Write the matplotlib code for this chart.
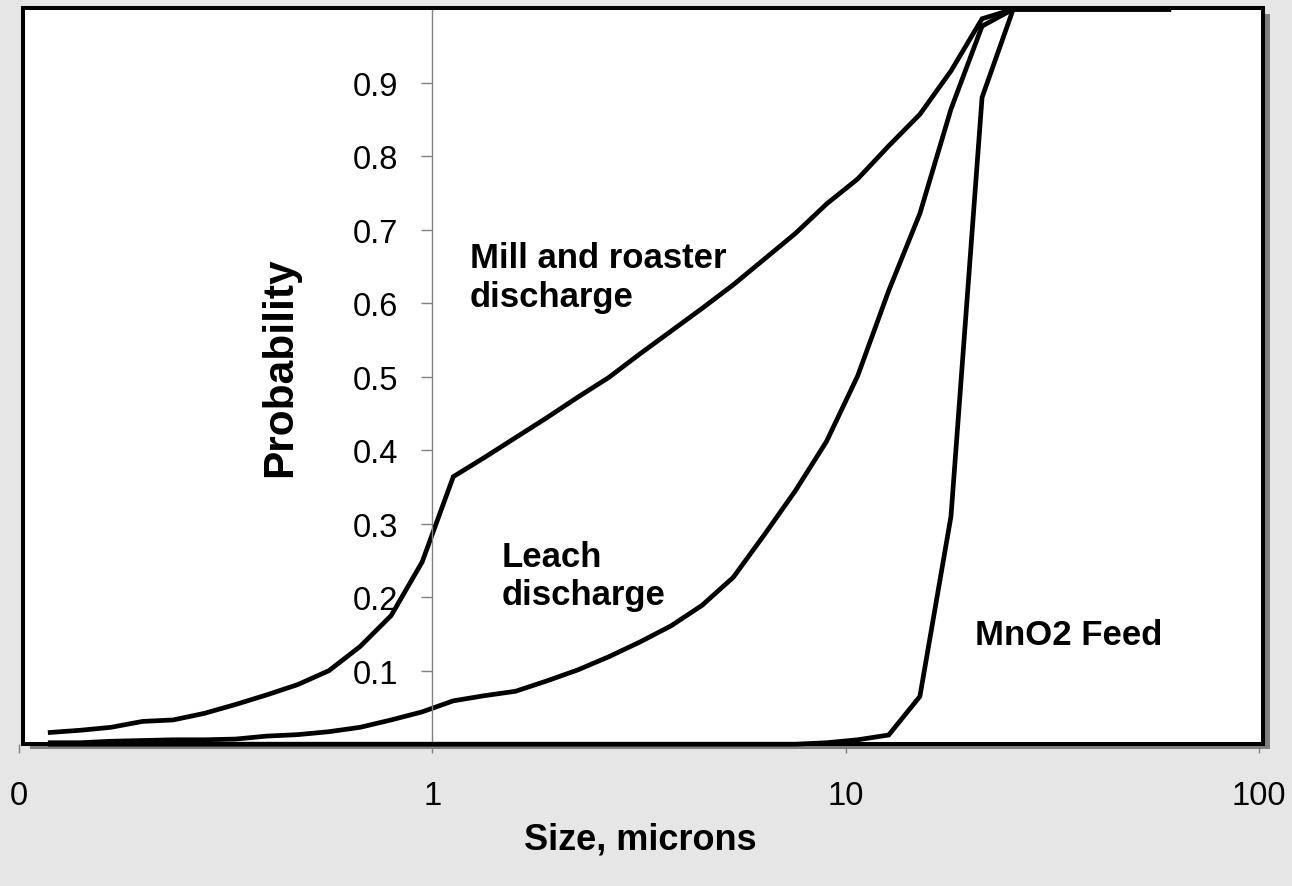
import matplotlib
matplotlib.use("Agg")
import matplotlib.pyplot as plt
from matplotlib.patches import Rectangle

plt.rcParams['font.family'] = ['Liberation Sans', 'DejaVu Sans']

# ---- data ----
sizes = [0.119, 0.141, 0.167, 0.199, 0.236, 0.281, 0.334, 0.397, 0.472, 0.562,
         0.669, 0.795, 0.945, 1.124, 1.336, 1.589, 1.89, 2.247, 2.673, 3.178,
         3.78, 4.495, 5.346, 6.357, 7.56, 8.99, 10.69, 12.71, 15.12, 17.98,
         21.38, 25.43, 30.24, 35.96, 42.77, 50.86, 60.48]
mill_roaster = [0.016, 0.019, 0.023, 0.031, 0.033, 0.042, 0.054, 0.067, 0.081, 0.100,
                0.133, 0.175, 0.248, 0.364, 0.390, 0.417, 0.444, 0.472, 0.499, 0.531,
                0.562, 0.593, 0.625, 0.660, 0.695, 0.735, 0.769, 0.814, 0.857, 0.916,
                0.987, 1.0, 1.0, 1.0, 1.0, 1.0, 1.0]
leach = [0.002, 0.002, 0.004, 0.005, 0.006, 0.006, 0.007, 0.011, 0.013, 0.017,
         0.023, 0.033, 0.044, 0.059, 0.066, 0.072, 0.086, 0.101, 0.119, 0.139,
         0.161, 0.189, 0.227, 0.285, 0.345, 0.412, 0.501, 0.617, 0.722, 0.864,
         0.977, 1.0, 1.0, 1.0, 1.0, 1.0, 1.0]
mno2_feed = [0.0, 0.0, 0.0, 0.0, 0.0, 0.0, 0.0, 0.0, 0.0, 0.0,
             0.0, 0.0, 0.0, 0.0, 0.0, 0.0, 0.0, 0.0, 0.0, 0.0,
             0.0, 0.0, 0.0, 0.0, 0.0, 0.002, 0.006, 0.0125, 0.065, 0.31,
             0.88, 1.0, 1.0, 1.0, 1.0, 1.0, 1.0]

x_ticks = [0.1, 1, 10, 100]
x_tick_labels = ["0", "1", "10", "100"]
y_ticks = [0.1, 0.2, 0.3, 0.4, 0.5, 0.6, 0.7, 0.8, 0.9]
y_tick_labels = ["0.1", "0.2", "0.3", "0.4", "0.5", "0.6", "0.7", "0.8", "0.9"]

W, H = 1292, 887
fig = plt.figure(figsize=(W / 100, H / 100), dpi=100, facecolor="#e6e6e6")

def fx(px):
    return px / W

def fy(py):
    return 1 - py / H

# plot-area frame with shadow (pixel geometry)
left_px, right_px, top_px, bot_px = 23, 1262.5, 9, 744.5
shadow = Rectangle((fx(left_px + 7), fy(bot_px + 5.5)), fx(right_px) - fx(left_px),
                   fy(top_px) - fy(bot_px), transform=fig.transFigure,
                   facecolor="#808080", edgecolor="none", zorder=-3)
fill = Rectangle((fx(left_px), fy(bot_px)), fx(right_px) - fx(left_px),
                 fy(top_px) - fy(bot_px), transform=fig.transFigure,
                 facecolor="white", edgecolor="none", zorder=-2)
border = Rectangle((fx(left_px), fy(bot_px)), fx(right_px) - fx(left_px),
                   fy(top_px) - fy(bot_px), transform=fig.transFigure,
                   facecolor="none", edgecolor="black", linewidth=2.9, zorder=2)
fig.patches.extend([shadow, fill, border])

# axes: x 0.1 -> px 19, 100 -> px 1259 ; y 0 -> px 745.2, 1 -> px 10.2
ax = fig.add_axes([fx(19), fy(745.2), fx(1259) - fx(19), fy(10.2) - fy(745.2)])
ax.set_facecolor("none")
ax.set_xscale("log")
ax.set_xlim(0.1, 100)
ax.set_ylim(0, 1)

for s in ["top", "right", "bottom"]:
    ax.spines[s].set_visible(False)
ax.spines["left"].set_position(("data", 1))
ax.spines["left"].set_color("#808080")
ax.spines["left"].set_linewidth(1.0)

ax.set_xticks(x_ticks)
ax.set_xticklabels(x_tick_labels)
ax.xaxis.set_minor_locator(matplotlib.ticker.NullLocator())
ax.set_yticks(y_ticks)
ax.set_yticklabels(y_tick_labels)
ax.tick_params(axis="x", direction="out", length=6.5, width=1.0, color="#808080",
               labelsize=23.5, pad=19, labelcolor="black")
ax.tick_params(axis="y", direction="out", length=8, width=1.0, color="#808080",
               labelsize=23.5, pad=16.5, labelcolor="black")

lw = 3.4
ax.plot(sizes, mill_roaster, color="black", lw=lw, solid_joinstyle="miter", clip_on=False)
ax.plot(sizes, leach, color="black", lw=lw, solid_joinstyle="miter", clip_on=False)
ax.plot(sizes, mno2_feed, color="black", lw=lw, solid_joinstyle="miter", clip_on=False)

# multi-line labels: va='baseline' anchors the last line's baseline
ax.text(1.234, 0.5966, "Mill and roaster\ndischarge", fontsize=25, fontweight="bold",
        ha="left", va="baseline", linespacing=1.2)
ax.text(1.472, 0.1907, "Leach\ndischarge", fontsize=25, fontweight="bold",
        ha="left", va="baseline", linespacing=1.2)
ax.text(20.6, 0.136, "MnO2 Feed", fontsize=25, fontweight="bold",
        ha="left", va="baseline")

fig.text(fx(280), fy(367), "Probability", rotation=90, fontsize=30.5, fontweight="bold",
         ha="center", va="center")
fig.text(fx(640), fy(840), "Size, microns", fontsize=26, fontweight="bold",
         ha="center", va="center")

fig.savefig("out.png", dpi=100, facecolor=fig.get_facecolor())
